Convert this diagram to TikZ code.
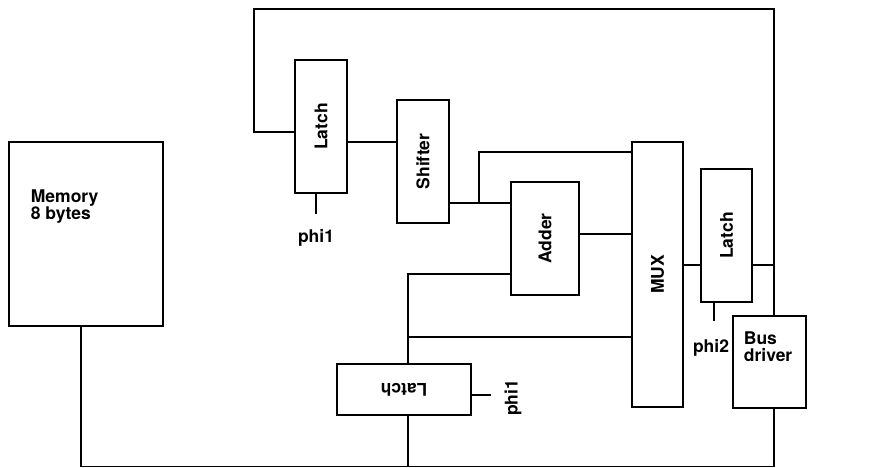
\documentclass[tikz,border=0pt]{standalone}
\usepackage{fontspec}
\setmainfont{TeX Gyre Heros}
\begin{document}
\begin{tikzpicture}[x=1pt,y=-1pt,line width=1.8pt,
  txt/.style={inner sep=0pt,font=\fontsize{17.5}{17}\selectfont\bfseries},
  blk/.style={draw,txt}]
\useasboundingbox (0,0) rectangle (876,468);
% blocks
\node[blk,minimum width=154pt,minimum height=184pt] (mem) at (86,234) {};
\node[txt,anchor=north west,align=left] (memtxt) at (30,188.5) {Memory\\8 bytes};
\node[blk,minimum width=52pt,minimum height=133pt] (latchA) at (321,126.5) {\rotatebox{90}{Latch}};
\node[blk,minimum width=52pt,minimum height=123pt] (shifter) at (423,161.5) {\rotatebox{90}{Shifter}};
\node[blk,minimum width=68pt,minimum height=113pt] (adder) at (545,238.5) {\rotatebox{90}{Adder}};
\node[blk,minimum width=51pt,minimum height=265pt] (mux) at (657.5,274.5) {\rotatebox{90}{MUX}};
\node[blk,minimum width=51pt,minimum height=133pt] (latchB) at (726.5,235.5) {\rotatebox{90}{Latch}};
\node[blk,minimum width=73pt,minimum height=92pt] (bus) at (769.5,362) {};
\node[txt,anchor=north west,align=left] (bustxt) at (743,330.5) {Bus\\driver};
\node[blk,minimum width=134pt,minimum height=51pt] (latchC) at (404,389.5) {\rotatebox{180}{Latch}};
% clock labels
\node[txt] (phiA) at (316,238) {phi1};
\node[txt] (phiB) at (711,348) {phi2};
\node[txt,rotate=90] (phiC) at (513,398) {phi1};
% coordinates
\coordinate (fbL) at (254,9);
\coordinate (fbR) at (774,9);
\coordinate (bL) at (81,466.5);
\coordinate (bR) at (774,466.5);
\coordinate (j1) at (479,203);
\coordinate (j2) at (408,274);
\coordinate (j3) at (408,337);
% wires
\draw (latchA.west |- 0,132) -| (fbL) -- (fbR) -- (bus.north -| fbR);
\draw (latchA.east |- 0,142) -- (shifter.west |- 0,142);
\draw (shifter.east |- j1) -- (adder.west |- j1);
\draw (j1) |- (mux.west |- 0,152);
\draw (adder.east |- 0,234) -- (mux.west |- 0,234);
\draw (adder.west |- j2) -- (j2) -- (latchC.north -| j2);
\draw (j3) -- (mux.west |- j3);
\draw (mux.east |- 0,265) -- (latchB.west |- 0,265);
\draw (latchB.east |- 0,265) -- (fbR |- 0,265);
\draw (mem.south -| bL) -- (bL) -- (bR) -- (bus.south -| bR);
\draw (latchC.south -| j2) -- (j2 |- bL);
% clock ticks
\draw (latchA.south -| 316,0) -- ++(0,20);
\draw (latchB.south -| 714,0) -- ++(0,18);
\draw (latchC.east |- 0,395) -- ++(19,0);
\end{tikzpicture}
\end{document}
